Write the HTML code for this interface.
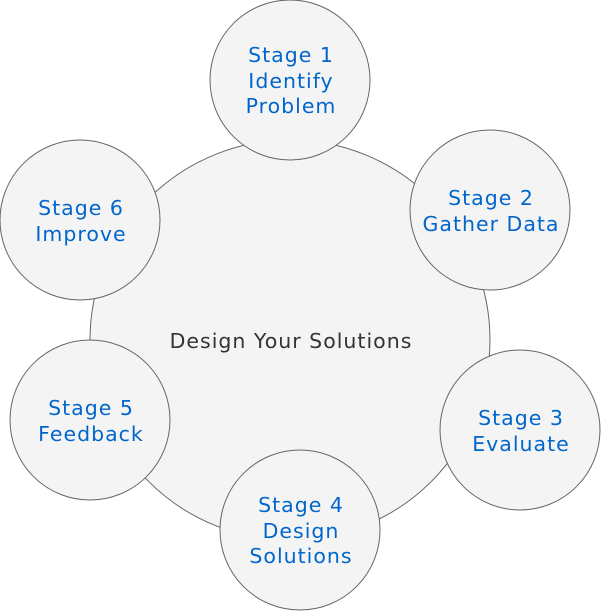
<!DOCTYPE html>
<html><head><meta charset="utf-8"><style>
html,body{margin:0;padding:0;background:#fff;}
svg{display:block;}
text{font-family:"DejaVu Sans","Liberation Sans",sans-serif;letter-spacing:1px;}
.s{fill:#0066cc;font-size:20.5px;text-anchor:middle;}
</style></head><body>
<svg width="601" height="611" viewBox="0 0 601 611" xmlns="http://www.w3.org/2000/svg">
<g fill="#f4f4f4" stroke="#666" stroke-width="1">
<circle cx="290" cy="340" r="200"/>
<circle cx="290" cy="80" r="80"/>
<circle cx="490" cy="210" r="80"/>
<circle cx="520" cy="430" r="80"/>
<circle cx="300" cy="530" r="80"/>
<circle cx="90" cy="420" r="80"/>
<circle cx="80" cy="220" r="80"/>
</g>
<text x="291" y="348" text-anchor="middle" font-size="20.5" fill="#333">Design Your Solutions</text>
<text class="s" x="291" y="62">Stage 1</text><text class="s" x="291" y="88">Identify</text><text class="s" x="291" y="113">Problem</text>
<text class="s" x="491" y="205">Stage 2</text><text class="s" x="491" y="231">Gather Data</text>
<text class="s" x="521" y="425">Stage 3</text><text class="s" x="521" y="451">Evaluate</text>
<text class="s" x="301" y="512">Stage 4</text><text class="s" x="301" y="538">Design</text><text class="s" x="301" y="563">Solutions</text>
<text class="s" x="91" y="415">Stage 5</text><text class="s" x="91" y="441">Feedback</text>
<text class="s" x="81" y="215">Stage 6</text><text class="s" x="81" y="241">Improve</text>
</svg>
</body></html>
